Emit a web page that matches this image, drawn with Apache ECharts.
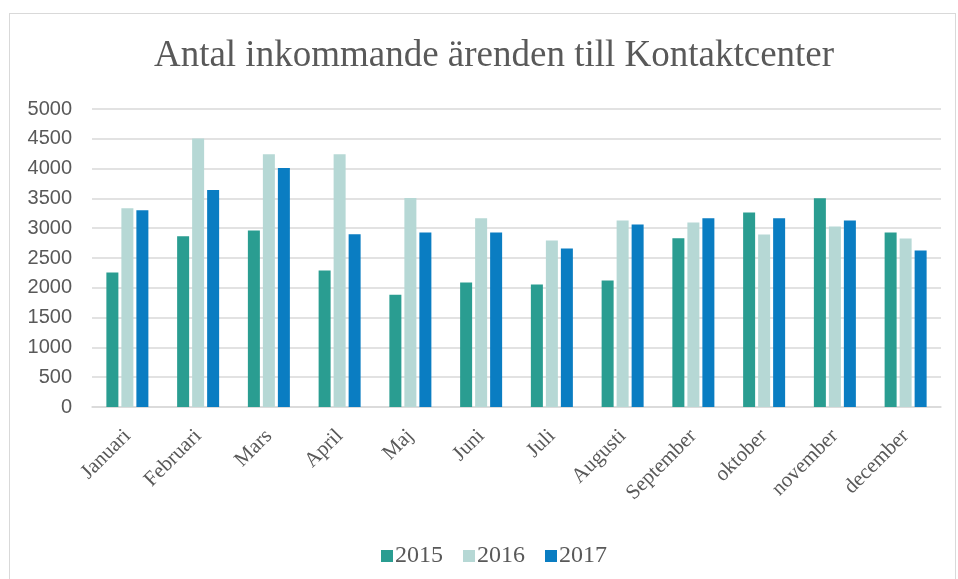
<!DOCTYPE html>
<html>
<head>
<meta charset="utf-8">
<script src="https://cdn.jsdelivr.net/npm/echarts@6/dist/echarts.min.js"></script>
<style>
  html, body { margin: 0; padding: 0; background: #fff; }
  #frame { position: absolute; left: 9px; top: 13px; width: 947px; height: 566px; border: 1px solid #d9d9d9; border-bottom: none; box-sizing: border-box; }
  #chart { position: absolute; left: 0; top: 0; width: 958px; height: 579px; }
</style>
</head>
<body>
<div id="frame"></div>
<div id="chart"></div>
<script>
const months = ['Januari', 'Februari', 'Mars', 'April', 'Maj', 'Juni', 'Juli', 'Augusti', 'September', 'oktober', 'november', 'december']
const years = ['2015', '2016', '2017']
const v2015 = [2257, 2866, 2961, 2291, 1883, 2089, 2056, 2123, 2832, 3263, 3503, 2927]
const v2016 = [3335, 4503, 4240, 4240, 3508, 3168, 2793, 3128, 3095, 2894, 3028, 2827]
const v2017 = [3302, 3642, 4011, 2899, 2927, 2927, 2659, 3061, 3168, 3168, 3128, 2626]
const colors = ['#2a9d91', '#b6d8d5', '#0a7dc2']

const myChart = echarts.init(document.getElementById('chart'))
const serif = '"Liberation Serif", "DejaVu Serif", serif'

const mkSeries = (name, data, i) => ({
  name: name,
  type: 'bar',
  data: data,
  barWidth: 12,
  barGap: '25%',
  itemStyle: { color: colors[i] }
})

myChart.setOption({
  animation: false,
  title: {
    text: 'Antal inkommande ärenden till Kontaktcenter',
    left: 489,
    textAlign: 'center',
    top: 33,
    textStyle: { fontFamily: serif, fontSize: 37, fontWeight: 'normal', color: '#595959' }
  },
  legend: {
    data: years,
    top: 539,
    left: 376,
    itemWidth: 12,
    itemHeight: 12,
    itemGap: 20,
    icon: 'rect',
    textStyle: { fontFamily: serif, fontSize: 24, color: '#595959', padding: [0, 0, 0, -3] }
  },
  grid: { left: 92, right: 17, top: 109, bottom: 172, containLabel: false },
  xAxis: {
    type: 'category',
    data: months,
    axisTick: { show: false },
    axisLine: { lineStyle: { color: '#d9d9d9', width: 1.5 } },
    axisLabel: { rotate: 45, interval: 0, margin: 26, fontFamily: serif, fontSize: 21, color: '#595959' }
  },
  yAxis: {
    type: 'value',
    min: 0,
    max: 5000,
    interval: 500,
    axisLine: { show: false },
    axisTick: { show: false },
    splitLine: { lineStyle: { color: '#d9d9d9', width: 1.5 } },
    axisLabel: {
      margin: 20,
      formatter: v => String(v),
      fontFamily: '"Liberation Sans", "DejaVu Sans", sans-serif',
      fontSize: 20,
      color: '#595959'
    }
  },
  series: [mkSeries('2015', v2015, 0), mkSeries('2016', v2016, 1), mkSeries('2017', v2017, 2)]
})
</script>
</body>
</html>
